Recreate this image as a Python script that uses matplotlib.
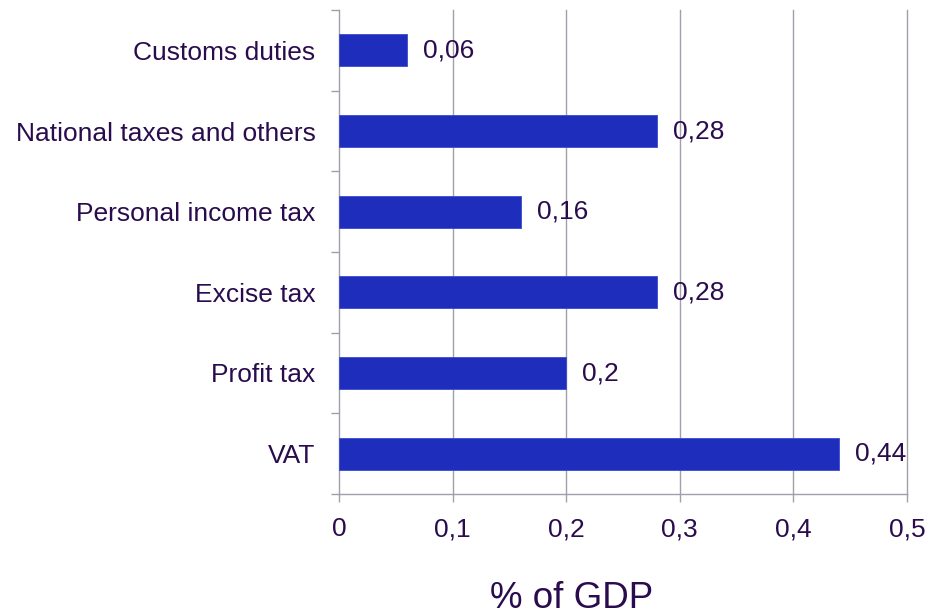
import numpy as np
import matplotlib
matplotlib.use("Agg")
from matplotlib import pyplot as plt

plt.rcParams['font.family'] = ['Liberation Sans', 'DejaVu Sans']

categories = ['VAT', 'Profit tax', 'Excise tax', 'Personal income tax',
              'National taxes and others', 'Customs duties']
values = [0.44, 0.2, 0.28, 0.16, 0.28, 0.06]
value_labels = ['0,44', '0,2', '0,28', '0,16', '0,28', '0,06']
x_ticks = [0, 0.1, 0.2, 0.3, 0.4, 0.5]
x_tick_labels = ['0', '0,1', '0,2', '0,3', '0,4', '0,5']

bar_color = '#1f2dbd'
text_color = '#2a0c4e'
line_color = '#a0a0ac'
font_size = 19

fig = plt.figure(figsize=(9.31, 6.16), dpi=100)
ax = fig.add_axes([339 / 931, 1 - 494 / 616, (907 - 339) / 931, (494 - 10) / 616])

pos = np.arange(len(categories))
ax.barh(pos, values, height=0.4, color=bar_color, edgecolor='#3a4ad0', linewidth=0.6, zorder=3)

for p, v, lab in zip(pos, values, value_labels):
    ax.annotate(lab, xy=(v, p), xytext=(16, 0), textcoords='offset pixels',
                va='center', ha='left', fontsize=font_size, color=text_color, zorder=4)

ax.set_xlim(0, 0.5)
ax.set_ylim(-0.5, len(categories) - 0.5)

# vertical grid, last line sits on the right edge so keep it unclipped
ax.set_xticks(x_ticks)
ax.set_xticklabels(x_tick_labels)
for xv in x_ticks[1:]:
    ax.axvline(xv, color=line_color, linewidth=1.0, zorder=0, clip_on=False)
ax.tick_params(axis='x', length=5.8, width=1.0, color=line_color, pad=11,
               labelsize=font_size, labelcolor=text_color)

# y ticks between categories, labels at the centers
ax.set_yticks(np.arange(-0.5, len(categories), 1.0))
ax.set_yticklabels([])
ax.set_yticks(pos, minor=True)
ax.set_yticklabels(categories, minor=True)
ax.tick_params(axis='y', which='major', length=5.8, width=1.0, color=line_color)
ax.tick_params(axis='y', which='minor', length=0, pad=17, labelsize=font_size, labelcolor=text_color)

for side in ['top', 'right']:
    ax.spines[side].set_visible(False)
for side in ['left', 'bottom']:
    ax.spines[side].set_color(line_color)
    ax.spines[side].set_linewidth(1.0)

fig.text(572 / 931, 1 - 608 / 616, '% of GDP', ha='center', va='baseline',
         fontsize=26.5, color=text_color)

fig.savefig('out.png', dpi=100)
